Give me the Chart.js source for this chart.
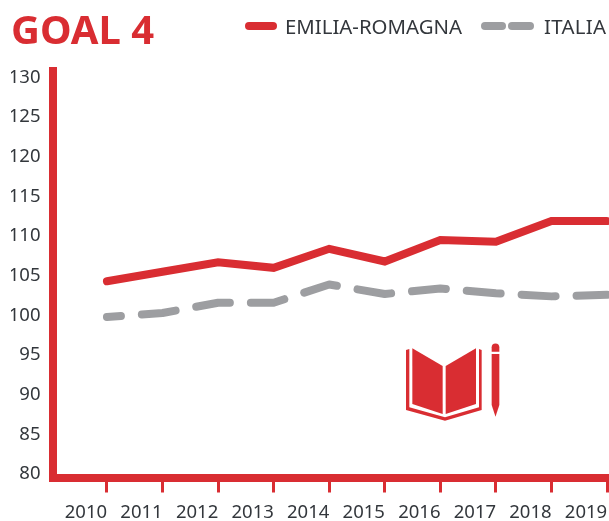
<!DOCTYPE html>
<html>
<head>
<meta charset="utf-8">
<script src="https://cdn.jsdelivr.net/npm/chart.js@4"></script>
<style>
html,body{margin:0;padding:0;background:#fff;}
#wrap{position:relative;width:609px;height:521px;overflow:hidden;}
canvas{display:block;}
#icon,#sw{position:absolute;left:0;top:0;}
.lg{position:absolute;top:13px;font:20.4px/26px "Noto Sans",sans-serif;color:#33373c;white-space:nowrap;}
</style>
</head>
<body>
<div id="wrap">
<canvas id="c" width="609" height="521"></canvas>
<svg id="sw" width="609" height="60"></svg>
<span class="lg" id="lg0" style="left:285px"></span>
<span class="lg" id="lg1" style="left:544px;letter-spacing:.3px"></span>
<svg id="icon" style="left:380px;top:330px" width="140" height="100" viewBox="0 0 420 300" fill="#d92d32">
<path d="M78 60 L88 57 V232 L195 262 L297 232 V57 L305 60 V240 L195 272 L78 240 Z"/>
<path d="M97 55 L188 108 V252 L97 222 Z"/>
<path d="M288 55 L197 108 V252 L288 222 Z"/>
<path d="M335 65 V52 a11.500 11.500 0 0 1 23 0 V65 Z"/>
<path d="M335 72 H358 V225 L346.500 260 L335 225 Z"/>
</svg>
</div>
<script>
const years = [2010,2011,2012,2013,2014,2015,2016,2017,2018,2019];
const emiliaRomagna = [104.3,105.5,106.7,106.0,108.4,106.8,109.5,109.3,111.9,111.9];
const italia = [99.8,100.3,101.6,101.6,103.9,102.7,103.4,102.8,102.4,102.6];
const yTicks = [80,85,90,95,100,105,110,115,120,125,130];
const titleText = 'GOAL 4';
const seriesNames = ['EMILIA-ROMAGNA','ITALIA'];
const RED = '#d92d32', GREY = '#9d9ea1', TXT = '#33373c';
const toXY = a => a.map((v,i)=>({x:years[i],y:v}));

document.getElementById('lg0').textContent = seriesNames[0];
document.getElementById('lg1').textContent = seriesNames[1];
document.getElementById('sw').innerHTML =
  '<line x1="249" x2="273" y1="26" y2="26" stroke="'+RED+'" stroke-width="8" stroke-linecap="round"/>'+
  '<line x1="485" x2="502" y1="26" y2="26" stroke="'+GREY+'" stroke-width="8" stroke-linecap="round"/>'+
  '<line x1="512" x2="530" y1="26" y2="26" stroke="'+GREY+'" stroke-width="8" stroke-linecap="round"/>';

new Chart(document.getElementById('c'),{
  type:'line',
  data:{datasets:[
    {label:seriesNames[0],data:toXY(emiliaRomagna),borderColor:RED,backgroundColor:RED,borderWidth:8,borderCapStyle:'round',borderJoinStyle:'miter',pointRadius:0,tension:0,clip:false},
    {label:seriesNames[1],data:toXY(italia),borderColor:GREY,backgroundColor:GREY,borderWidth:8,borderDash:[34,21],borderDashOffset:20,borderCapStyle:'round',borderJoinStyle:'round',pointRadius:0,tension:0,clip:false}
  ]},
  options:{
    responsive:false,animation:false,
    layout:{autoPadding:false,padding:{left:11,right:2,top:0,bottom:0}},
    plugins:{
      tooltip:{enabled:false},
      legend:{display:false},
      title:{display:true,text:titleText,align:'start',color:RED,
        font:{family:'"Noto Sans"',size:40,weight:'bold'},padding:{top:9,bottom:14}}
    },
    scales:{
      x:{type:'linear',min:2009.02,max:2019,
        afterBuildTicks(s){s.ticks=years.map(v=>({value:v}));},
        afterFit(s){s.height=43.5;s.paddingLeft=0;s.paddingRight=0;},
        border:{display:true,color:RED,width:8},
        grid:{drawOnChartArea:false,drawTicks:true,color:RED,lineWidth:3,tickLength:15},
        ticks:{autoSkip:false,maxRotation:0,minRotation:0,stepSize:1,labelOffset:-21,padding:9,color:TXT,
          font:{family:'"Noto Sans"',size:18.5},callback:v=>String(v)}},
      y:{type:'linear',min:79.56,max:130.82,
        afterBuildTicks(s){s.ticks=yTicks.map(v=>({value:v}));},
        afterFit(s){s.width=41.5;s.paddingTop=0;s.paddingBottom=0;},
        border:{display:true,color:RED,width:8},
        grid:{display:true,drawOnChartArea:false,drawTicks:false},
        ticks:{padding:12,color:TXT,font:{family:'"Noto Sans"',size:18.5},stepSize:5,callback:v=>String(v)}}
    }
  }
});
</script>
</body>
</html>
